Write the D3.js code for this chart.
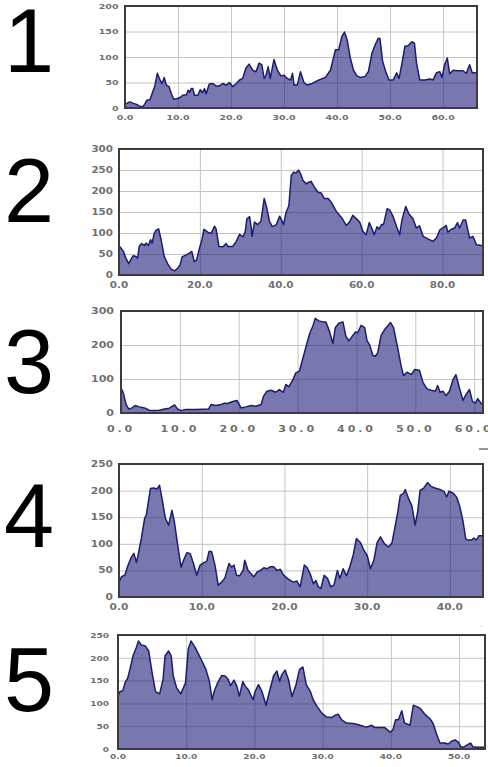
<!DOCTYPE html>
<html>
<head>
<meta charset="utf-8">
<script src="https://cdn.jsdelivr.net/npm/d3@7"></script>
<style>
  html, body { margin: 0; padding: 0; background: #fff; }
  svg { display: block; }
</style>
</head>
<body>
<div id="chart"></div>
<script>
// Five profiles, each point is [distance, value]
const profile1 = [[0,8],[0.3,9],[0.9,12],[1.6,9],[2.2,7],[2.8,3],[3.4,3],[3.75,8],[4.1,15],[4.7,16],[5.0,25],[5.6,42],[6.1,68],[6.6,55],[7.0,48],[7.4,60],[7.8,45],[8.3,42],[8.75,28],[9.2,17],[9.7,18],[10.3,20],[10.9,25],[11.6,26],[11.9,35],[12.2,31],[12.5,38],[12.8,38],[13.1,25],[13.75,25],[14.2,36],[14.6,30],[15.0,38],[15.3,28],[15.9,47],[16.6,48],[17.2,43],[17.8,43],[18.4,48],[19.1,45],[19.7,50],[20.3,42],[20.9,47],[21.6,55],[22.2,58],[22.8,78],[23.4,86],[24.1,74],[24.7,71],[25.3,88],[25.8,85],[26.25,58],[26.6,64],[27.0,81],[27.4,58],[28.1,95],[28.75,74],[29.4,63],[30.0,64],[30.6,58],[31.25,55],[31.6,68],[31.9,45],[32.5,45],[33.1,71],[33.75,50],[34.4,45],[35.3,48],[36.6,55],[37.8,60],[38.75,74],[39.7,114],[40.3,114],[40.9,140],[41.4,149],[41.9,134],[42.5,98],[43.1,74],[43.75,63],[44.4,60],[45.3,62],[45.9,71],[46.6,108],[47.2,124],[47.8,137],[48.1,136],[48.6,91],[49.2,71],[49.8,55],[50.6,55],[51.25,69],[51.7,58],[52.2,85],[52.8,121],[53.4,122],[54.1,130],[54.6,127],[55.0,88],[55.6,55],[56.6,55],[57.5,57],[58.1,55],[58.75,69],[59.4,71],[59.8,60],[60.3,85],[60.8,98],[61.25,67],[61.9,74],[62.8,73],[63.75,73],[64.4,68],[65.0,85],[65.5,69],[65.9,69],[66.4,69]];

const profile2 = [[0,70],[0.5,64],[1.1,56],[1.7,40],[2.4,27],[3.0,38],[3.5,46],[4.2,44],[4.6,40],[5.0,68],[5.6,75],[6.3,70],[6.7,76],[7.3,70],[7.8,84],[8.2,76],[8.7,99],[9.2,107],[9.8,110],[10.4,84],[11.2,44],[12.0,27],[12.9,14],[13.7,10],[14.5,16],[15.1,24],[15.6,43],[16.6,48],[17.4,52],[18.0,56],[18.6,32],[19.2,36],[19.9,64],[20.5,84],[21.0,109],[21.9,102],[22.8,99],[23.6,116],[24.0,110],[24.7,68],[25.7,67],[26.5,75],[26.9,68],[28.1,68],[29.0,80],[29.8,97],[30.6,91],[31.2,102],[31.6,133],[32.3,139],[32.7,112],[32.9,92],[33.5,126],[34.3,120],[35.1,128],[35.9,182],[36.6,157],[37.2,128],[37.9,115],[38.9,120],[39.7,140],[40.1,133],[40.7,120],[41.3,149],[42.0,165],[42.6,237],[43.2,245],[43.8,243],[44.4,250],[44.9,241],[45.5,225],[46.3,217],[46.9,221],[47.5,223],[48.3,209],[49.2,197],[50.0,195],[50.8,182],[51.7,182],[52.5,173],[53.7,152],[55.0,137],[56.2,118],[57.0,126],[57.8,142],[58.7,134],[59.5,126],[60.3,104],[61.1,96],[61.9,125],[62.6,109],[63.1,96],[63.8,115],[64.3,109],[64.9,120],[65.4,120],[66.3,158],[66.9,155],[67.7,141],[68.6,116],[69.4,96],[70.0,133],[70.9,163],[71.7,145],[72.7,134],[73.5,112],[74.3,117],[75.2,92],[76.4,86],[77.6,80],[78.5,88],[79.3,107],[80.5,115],[80.9,118],[81.3,102],[82.2,109],[83.0,112],[83.7,125],[84.2,112],[85.1,131],[85.7,131],[86.7,88],[87.5,92],[88.4,72],[89.6,70],[90,70]];

const profile3 = [[0,74],[0.4,59],[0.85,25],[1.3,12],[1.9,15],[2.4,22],[3.1,18],[4.0,15],[4.8,8],[5.7,7],[6.5,8],[7.4,12],[8.2,14],[9.1,24],[9.6,12],[10.2,7],[11.0,10],[11.9,10],[12.7,10],[13.9,11],[14.9,12],[15.3,25],[16.1,22],[17.0,25],[17.6,29],[18.1,28],[19.0,34],[19.7,37],[20.4,15],[21.2,18],[22.1,22],[22.9,20],[23.8,25],[24.2,49],[24.8,64],[25.5,67],[26.3,61],[26.9,69],[27.6,61],[28.0,84],[28.5,77],[29.2,98],[29.7,118],[30.3,123],[31.0,167],[31.6,206],[32.1,236],[32.6,256],[33.0,278],[33.6,271],[34.3,268],[34.8,268],[35.4,241],[36.0,204],[36.4,251],[37.0,264],[37.7,268],[38.2,226],[38.7,212],[39.3,226],[39.8,238],[40.2,236],[40.8,258],[41.4,251],[41.8,212],[42.2,202],[42.8,169],[43.2,167],[43.6,177],[44.2,229],[44.9,248],[45.3,256],[45.8,266],[46.3,251],[47.0,192],[47.6,138],[48.0,110],[48.6,120],[49.3,113],[49.9,128],[50.7,126],[51.3,90],[52.0,71],[52.7,67],[53.4,64],[53.8,81],[54.2,61],[54.7,64],[55.2,51],[55.8,64],[56.4,98],[56.9,113],[57.5,74],[58.1,37],[58.6,54],[59.2,69],[59.7,34],[60.2,29],[60.6,42],[61.2,28],[61.5,25]];

const profile4 = [[0,28],[0.3,38],[0.7,41],[1.1,60],[1.5,75],[1.8,82],[2.1,65],[2.3,78],[2.7,110],[3.1,148],[3.3,154],[3.8,204],[4.2,205],[4.6,203],[4.9,210],[5.2,185],[5.6,148],[6.0,135],[6.4,163],[6.7,141],[7.1,97],[7.5,56],[7.8,69],[8.2,83],[8.6,82],[9.0,63],[9.4,41],[9.8,60],[10.3,65],[10.6,67],[10.9,86],[11.2,85],[11.6,60],[12.0,22],[12.4,28],[12.8,36],[13.3,63],[13.6,56],[13.9,60],[14.2,41],[14.6,40],[15.0,50],[15.2,69],[15.6,50],[16.3,38],[16.7,47],[17.1,50],[17.5,55],[17.9,53],[18.3,57],[18.7,57],[19.1,50],[19.5,52],[19.9,41],[20.5,33],[21.1,28],[21.5,30],[21.9,19],[22.4,60],[22.7,56],[23.1,44],[23.5,25],[23.8,31],[24.1,19],[24.4,16],[24.8,41],[25.2,35],[25.6,19],[26.0,23],[26.4,50],[26.7,35],[27.1,53],[27.5,40],[27.9,57],[28.3,78],[28.7,110],[29.2,102],[29.6,88],[30.0,78],[30.4,53],[30.8,69],[31.2,102],[31.6,113],[32.1,100],[32.6,94],[33.0,102],[33.3,126],[33.7,160],[34.0,191],[34.4,195],[34.6,202],[35.0,185],[35.4,172],[35.8,135],[36.1,160],[36.4,201],[36.8,204],[37.3,215],[37.7,208],[38.2,205],[38.8,202],[39.3,198],[39.6,188],[39.9,199],[40.4,195],[40.8,188],[41.2,170],[41.6,141],[41.9,110],[42.1,107],[42.6,107],[42.9,111],[43.2,107],[43.5,115],[44.0,115]];

const profile5 = [[0,116],[0.3,126],[0.7,128],[1.1,148],[1.4,154],[1.8,178],[2.2,204],[2.7,223],[3.0,237],[3.4,228],[4.0,226],[4.5,215],[5.0,167],[5.5,126],[6.1,121],[6.6,152],[6.9,204],[7.4,215],[7.8,204],[8.1,160],[8.6,134],[9.2,121],[9.9,145],[10.3,219],[10.7,237],[11.3,223],[11.8,208],[12.3,193],[12.9,174],[13.4,148],[13.8,108],[14.1,126],[14.6,145],[15.2,161],[15.7,160],[16.1,154],[16.5,139],[17.0,151],[17.4,139],[17.8,116],[18.3,148],[18.6,139],[19.1,130],[19.8,108],[20.1,126],[20.6,141],[21.1,126],[21.7,96],[22.2,126],[22.8,160],[23.3,171],[23.7,148],[24.0,163],[24.5,173],[25.0,152],[25.5,115],[26.1,141],[26.6,174],[27.1,180],[27.6,141],[28.2,126],[28.6,108],[29.2,93],[29.9,78],[30.6,70],[31.3,69],[31.8,74],[32.3,76],[32.8,64],[33.5,57],[34.5,56],[35.5,52],[36.4,48],[37.2,52],[37.7,47],[38.4,47],[39.1,47],[39.9,37],[40.3,42],[40.7,64],[41.1,64],[41.6,84],[42.0,57],[42.8,52],[43.3,96],[43.8,93],[44.3,89],[45.0,76],[45.7,67],[46.2,56],[46.7,33],[47.2,13],[47.9,13],[48.4,11],[48.9,17],[49.4,20],[49.9,15],[50.3,4],[50.8,5],[51.3,10],[51.7,13],[52.0,5],[52.8,4],[53.6,4],[53.8,4]];

// Axis ticks
const xTicks1 = [0, 10, 20, 30, 40, 50, 60];
const yTicks1 = [0, 50, 100, 150, 200];
const xTicks2 = [0, 20, 40, 60, 80];
const yTicks2 = [0, 50, 100, 150, 200, 250, 300];
const xTicks3 = [0, 10, 20, 30, 40, 50, 60];
const yTicks3 = [0, 100, 200, 300];
const xTicks4 = [0, 10, 20, 30, 40];
const yTicks4 = [0, 50, 100, 150, 200, 250];
const xTicks5 = [0, 10, 20, 30, 40, 50];
const yTicks5 = [0, 50, 100, 150, 200, 250];

const panelNames = ['1', '2', '3', '4', '5'];
const xMaxes = [66.4, 90, 61.5, 44, 53.8];
const yMaxes = [200, 300, 300, 250, 250];

// Layout of each panel (pixel boxes, label sizes)
const layout = [
    { left: 125, right: 477, top: 6,   bottom: 108, numY: 72,  font: 7,   sx: 1.35, ls: 0,   xLabY: 119.5, yGap: 6.5 },
    { left: 119, right: 483, top: 149, bottom: 275, numY: 222, font: 8.5, sx: 1.22, ls: 0,   xLabY: 288,   yGap: 6 },
    { left: 121, right: 483, top: 311, bottom: 413, numY: 393, font: 8.5, sx: 1.3,  ls: 2.2, xLabY: 432,   yGap: 7 },
    { left: 119, right: 483, top: 464, bottom: 597, numY: 547, font: 8.5, sx: 1.25, ls: 0,   xLabY: 610,   yGap: 6 },
    { left: 118, right: 485, top: 635, bottom: 749, numY: 711, font: 7.5, sx: 1.2,  ls: 0,   xLabY: 759,   yGap: 9 }
];

const profiles = [profile1, profile2, profile3, profile4, profile5];
const xTickSets = [xTicks1, xTicks2, xTicks3, xTicks4, xTicks5];
const yTickSets = [yTicks1, yTicks2, yTicks3, yTicks4, yTicks5];

const width = 488, height = 767;

const svg = d3.select('#chart')
    .append('svg')
    .attr('width', width)
    .attr('height', height);

profiles.forEach((data, i) => {
    const b = layout[i];
    const x = d3.scaleLinear().domain([0, xMaxes[i]]).range([b.left, b.right]);
    const y = d3.scaleLinear().domain([0, yMaxes[i]]).range([b.bottom, b.top]);
    const g = svg.append('g');

    // Big panel number
    svg.append('text')
        .attr('x', 4)
        .attr('y', b.numY)
        .style('font-family', '"Liberation Sans", Arial, Helvetica, sans-serif')
        .style('font-size', '90px')
        .style('fill', '#000')
        .text(panelNames[i]);

    // Gridlines
    g.append('g')
        .attr('transform', `translate(0,${b.bottom})`)
        .call(d3.axisBottom(x).tickValues(xTickSets[i]).tickSize(-(b.bottom - b.top)).tickFormat(''))
        .call(s => s.select('.domain').remove())
        .selectAll('line')
        .attr('stroke', '#c4c4c4')
        .attr('stroke-width', 1);

    g.append('g')
        .attr('transform', `translate(${b.left},0)`)
        .call(d3.axisLeft(y).tickValues(yTickSets[i]).tickSize(-(b.right - b.left)).tickFormat(''))
        .call(s => s.select('.domain').remove())
        .selectAll('line')
        .attr('stroke', '#c4c4c4')
        .attr('stroke-width', 1);

    // Clip to the plot box
    const clipId = 'clip' + i;
    svg.append('clipPath').attr('id', clipId)
        .append('rect')
        .attr('x', b.left).attr('y', b.top)
        .attr('width', b.right - b.left).attr('height', b.bottom - b.top);

    const area = d3.area()
        .x(d => x(d[0]))
        .y0(y(0))
        .y1(d => y(d[1]));

    const line = d3.line()
        .x(d => x(d[0]))
        .y(d => y(d[1]));

    const plot = g.append('g').attr('clip-path', `url(#${clipId})`);

    plot.append('path')
        .datum(data)
        .attr('d', area)
        .attr('fill', 'rgb(30,30,120)')
        .attr('fill-opacity', 0.6);

    plot.append('path')
        .datum(data)
        .attr('d', line)
        .attr('fill', 'none')
        .attr('stroke', '#1b1b78')
        .attr('stroke-width', 1.5)
        .attr('stroke-linejoin', 'round');

    // Frame
    g.append('rect')
        .attr('x', b.left).attr('y', b.top)
        .attr('width', b.right - b.left).attr('height', b.bottom - b.top)
        .attr('fill', 'none')
        .attr('stroke', '#3c3c3c')
        .attr('stroke-width', 2);

    // Tick labels (stretched sideways like the source)
    g.selectAll('.xlab')
        .data(xTickSets[i])
        .join('text')
        .attr('class', 'xlab')
        .attr('transform', d => `translate(${x(d)},${b.xLabY}) scale(${b.sx},1)`)
        .attr('text-anchor', 'middle')
        .style('font-family', '"DejaVu Sans", Verdana, sans-serif')
        .style('font-weight', 'bold')
        .style('font-size', b.font + 'px')
        .style('letter-spacing', b.ls + 'px')
        .style('fill', '#707070')
        .text(d => d3.format('.1f')(d));

    g.selectAll('.ylab')
        .data(yTickSets[i])
        .join('text')
        .attr('class', 'ylab')
        .attr('transform', d => `translate(${b.left - b.yGap},${y(d)}) scale(${b.sx},1)`)
        .attr('text-anchor', 'end')
        .attr('dy', '0.36em')
        .style('font-family', '"DejaVu Sans", Verdana, sans-serif')
        .style('font-weight', 'bold')
        .style('font-size', b.font + 'px')
        .style('fill', '#707070')
        .text(d => d);
});

// small stray marks from the source scan
svg.append('line')
    .attr('x1', 479).attr('x2', 488).attr('y1', 449).attr('y2', 449)
    .attr('stroke', '#333').attr('stroke-width', 1);
svg.append('circle')
    .attr('cx', 481.5).attr('cy', 626).attr('r', 0.6)
    .attr('fill', '#8890a8');
</script>
</body>
</html>
